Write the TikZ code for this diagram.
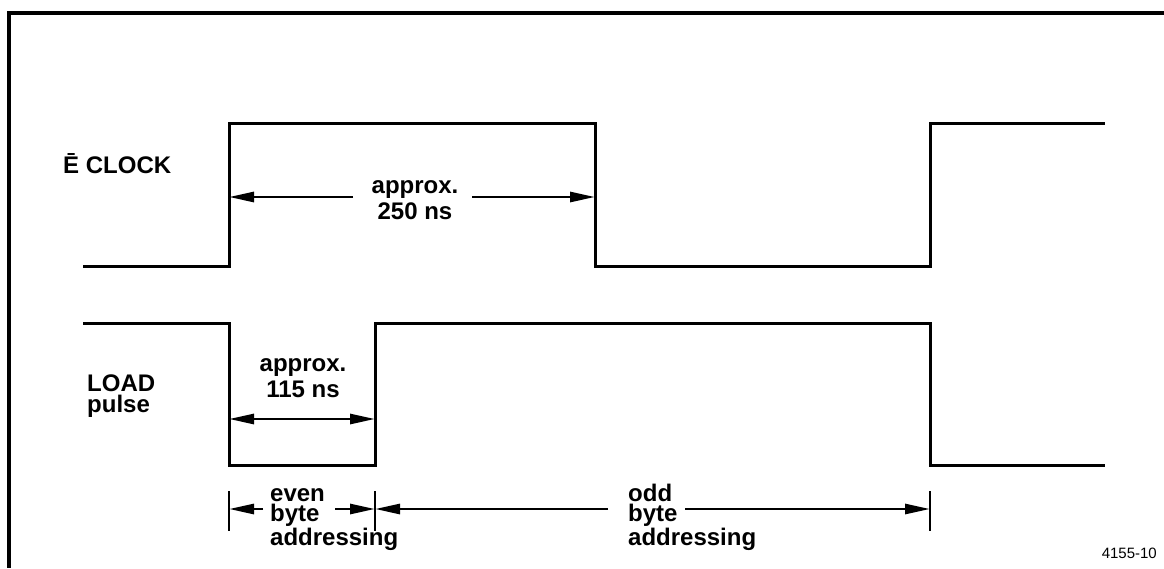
\documentclass[tikz,border=0pt]{standalone}
\usepackage{fontspec}
\setmainfont{Liberation Sans}
\usetikzlibrary{arrows.meta}
\begin{document}
\begin{tikzpicture}[x=1pt,y=-1pt,
  sig/.style={line width=3pt, line join=miter},
  frame/.style={line width=3.2pt},
  dim/.style={line width=2.8pt},
  tip/.style={-{Triangle[length=25pt,width=10pt]}},
  twotip/.style={{Triangle[length=25pt,width=10pt]}-{Triangle[length=25pt,width=10pt]}},
  lbl/.style={font=\bfseries\fontsize{24}{20.5}\selectfont, align=left, inner sep=0pt},
  clbl/.style={font=\bfseries\fontsize{24}{26}\selectfont, align=center, inner sep=0pt},
]
\useasboundingbox (0,0) rectangle (1164,568);
\fill[white] (0,0) rectangle (1164,568);
% frame
\coordinate (fTR) at (1164,13); \coordinate (fTL) at (9,13); \coordinate (fBL) at (9,568);
\draw[frame] (fTR) -- (fTL) -- (fBL);
% E clock waveform
\coordinate (e0) at (83,266); \coordinate (e1) at (229,266); \coordinate (e2) at (229,123);
\coordinate (e3) at (595,123); \coordinate (e4) at (595,266); \coordinate (e5) at (930,266);
\coordinate (e6) at (930,123); \coordinate (e7) at (1105,123);
\draw[sig] (e0) -- (e1) -- (e2) -- (e3) -- (e4) -- (e5) -- (e6) -- (e7);
% LOAD waveform
\coordinate (l0) at (83,323); \coordinate (l1) at (229,323); \coordinate (l2) at (229,465);
\coordinate (l3) at (375,465); \coordinate (l4) at (375,323); \coordinate (l5) at (930,323);
\coordinate (l6) at (930,465); \coordinate (l7) at (1105,465);
\draw[sig] (l0) -- (l1) -- (l2) -- (l3) -- (l4) -- (l5) -- (l6) -- (l7);
% labels (base anchor = baseline of last line)
\node[lbl, anchor=base west] (eclk) at (63,173) {Ē CLOCK};
\node[lbl, anchor=base west] (load) at (87,412) {LOAD\\pulse};
\node[clbl, anchor=base] (t250) at (415,219) {approx.\\250 ns};
\node[clbl, anchor=base] (t115) at (303,397) {approx.\\115 ns};
\node[lbl, anchor=base west] (even) at (270,545) {even\\byte\\addressing};
\node[lbl, anchor=base west] (odd) at (628,545) {odd\\byte\\addressing};
\node[font=\fontsize{15}{15}\selectfont, anchor=base east, inner sep=0pt] (fig) at (1157,558) {4155-10};
% 250 ns dimension
\coordinate (a250L) at (229,197); \coordinate (a250R) at (595,197);
\coordinate (g250L) at (353,197); \coordinate (g250R) at (472,197);
\draw[dim,tip] (g250L) -- (a250L);
\draw[dim,tip] (g250R) -- (a250R);
% 115 ns dimension
\coordinate (a115L) at (229,419); \coordinate (a115R) at (375,419);
\draw[dim,twotip] (a115L) -- (a115R);
% ticks
\coordinate (k1t) at (229,491); \coordinate (k1b) at (229,531);
\coordinate (k2t) at (375,491); \coordinate (k2b) at (375,531);
\coordinate (k3t) at (930,491); \coordinate (k3b) at (930,531);
\draw[dim] (k1t) -- (k1b);
\draw[dim] (k2t) -- (k2b);
\draw[dim] (k3t) -- (k3b);
% even / odd dimensions
\coordinate (m1) at (229,509); \coordinate (m2) at (375,509); \coordinate (m3) at (930,509);
\coordinate (ge1) at (263,509); \coordinate (ge2) at (335,509);
\coordinate (go1) at (608,509); \coordinate (go2) at (685,509);
\draw[dim,tip] (ge1) -- (m1);
\draw[dim,tip] (ge2) -- (m2);
\draw[dim,tip] (go1) -- (m2);
\draw[dim,tip] (go2) -- (m3);
\end{tikzpicture}
\end{document}
